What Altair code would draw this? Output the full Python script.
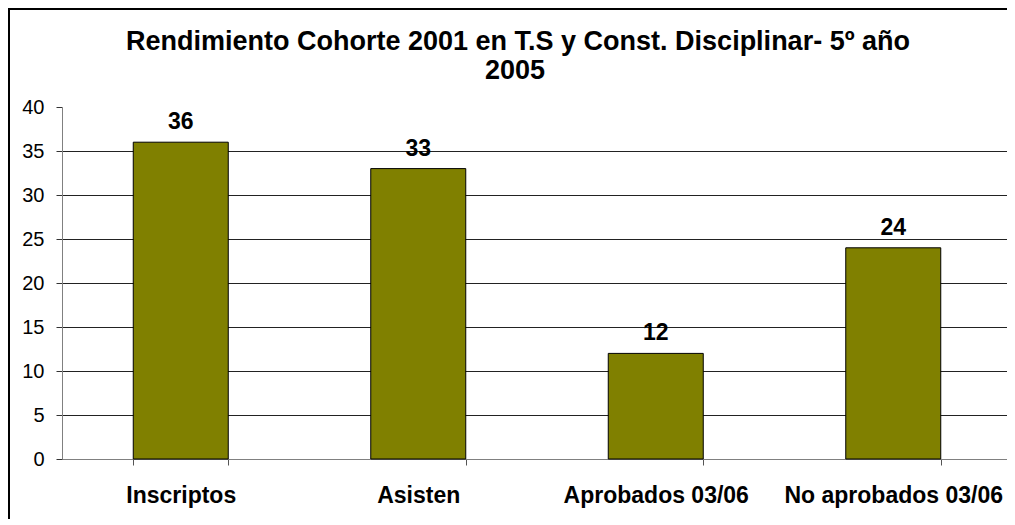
import altair as alt
import pandas as pd

categories = ["Inscriptos", "Asisten", "Aprobados  03/06", "No aprobados 03/06"]
values = [36, 33, 12, 24]
y_ticks = [0, 5, 10, 15, 20, 25, 30, 35, 40]
title_lines = ["Rendimiento Cohorte 2001 en T.S y Const. Disciplinar- 5º año", "2005"]

df = pd.DataFrame({"cat": categories, "val": values})

W = 945
H = 352
FONT = "Liberation Sans"

x = alt.X(
    "cat:N", sort=categories, title=None,
    scale=alt.Scale(paddingInner=0.6, paddingOuter=0.3, range=[0, 950]),
    axis=alt.Axis(labelAngle=0, labelFont=FONT, labelFontWeight="bold", labelFontSize=23,
                  labelColor="black", tickBand="extent", tickSize=6, tickColor="#555555",
                  domainColor="#808080", labelPadding=19, grid=False, labelLimit=0,
                  labelOverlap=False),
)
y = alt.Y(
    "val:Q", title=None,
    scale=alt.Scale(domain=[0, 40], nice=False),
    axis=alt.Axis(values=y_ticks, labelFont=FONT, labelFontSize=20, labelColor="black",
                  tickSize=6, tickColor="#333333", domainColor="#808080", labelPadding=12,
                  grid=True, gridColor="#222222", gridWidth=1,
                  gridOpacity=alt.condition("datum.value == 40", alt.value(0), alt.value(1))),
)

bars = alt.Chart(df).mark_bar(color="#808000", stroke="black", strokeWidth=1).encode(x=x, y=y)
labels = alt.Chart(df).mark_text(baseline="alphabetic", dy=-13, fontWeight="bold", fontSize=23,
                                 font=FONT, color="black").encode(x=x, y=y, text="val:Q")

one = alt.Data(values=[{}])
frame_top = alt.Chart(one).mark_rule(stroke="black", strokeWidth=2).encode(
    x=alt.value(-54), x2=alt.value(W), y=alt.value(-98)
)
frame_left = alt.Chart(one).mark_rule(stroke="black", strokeWidth=2).encode(
    x=alt.value(-53), y=alt.value(-99), y2=alt.value(H + 60)
)
title1 = alt.Chart(one).mark_text(text=title_lines[0], font=FONT, fontSize=27, fontWeight="bold",
                                  align="center", baseline="alphabetic", color="black").encode(
    x=alt.value(456), y=alt.value(-57)
)
title2 = alt.Chart(one).mark_text(text=title_lines[1], font=FONT, fontSize=27, fontWeight="bold",
                                  align="center", baseline="alphabetic", color="black").encode(
    x=alt.value(453), y=alt.value(-28)
)

chart = alt.layer(bars, labels, frame_top, frame_left, title1, title2).properties(
    width=W, height=H,
    autosize=alt.AutoSizeParams(type="none"),
    padding={"left": 54, "top": 99, "right": 0, "bottom": 60},
    background="white",
).configure_view(stroke=None)

chart.save("out.html", embed_options={"renderer": "svg", "actions": False})
